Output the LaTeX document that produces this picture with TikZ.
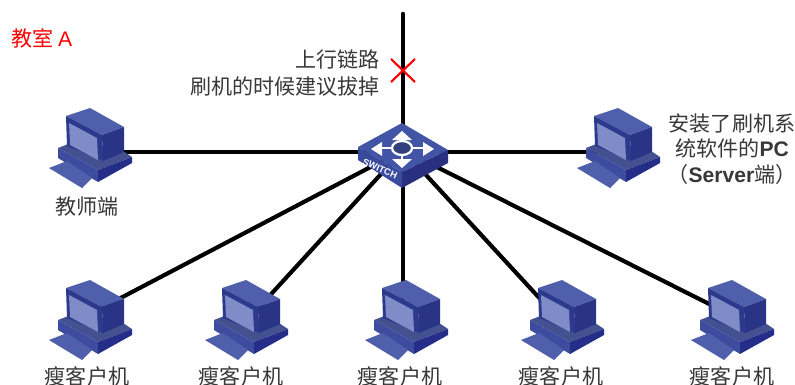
\documentclass[tikz,border=0pt]{standalone}
\usepackage{fontspec}
\setmainfont{Liberation Sans}
\newfontfamily\cjk{Noto Sans CJK SC}
\definecolor{pcfront}{HTML}{2B3A8C}
\definecolor{pctop}{HTML}{4F5FAB}
\definecolor{pcside}{HTML}{2A3486}
\definecolor{pcscreen}{HTML}{7F8CC8}
\definecolor{pcbase}{HTML}{3D4C9F}
\definecolor{pcright}{HTML}{242E88}
\definecolor{swtop}{HTML}{4254A6}
\definecolor{swleft}{HTML}{3A4A9C}
\definecolor{swright}{HTML}{28307F}
\tikzset{
  link/.style={line width=3.4pt,black},
  diag/.style={line width=3.1pt,black},
  lbl/.style={inner sep=0pt,font=\fontsize{15.8pt}{19pt}\selectfont\cjk,text=black!78},
  anchorpt/.style={inner sep=0pt,minimum size=0pt},
  pc/.pic={
    % base
    \fill[pctop!85!black] (18,48)--(36,41)--(80,49)--(92,57)--(58,70)--cycle;
    \fill[pcbase] (18,48)--(58,70)--(58,82)--(18,58)--cycle;
    \fill[pcright] (58,70)--(92,57)--(92,63)--(58,82)--cycle;
    % monitor
    \fill[pctop] (26,16)--(50,8)--(84,27)--(62,35)--cycle;
    \fill[pcfront] (26,16)--(62,35)--(63,61)--(27,46)--cycle;
    \fill[pcside] (62,35)--(84,27)--(84,52)--(63,61)--cycle;
    \fill[pcscreen] (29,23)--(57,38)--(58,60)--(30,45)--cycle;
    % keyboard
    \fill[pctop] (9,68)--(27,61)--(52,78)--(42,88)--cycle;
  },
  sarrow/.style={white,line width=2pt},
  stip/.style={fill=white},
}
\begin{document}
\begin{tikzpicture}[x=0.75pt,y=-0.75pt]
\useasboundingbox (0,0) rectangle (795,385);
\fill[white] (0,0) rectangle (795,385);
% anchors of the devices
\node[anchorpt] (sw) at (403,150) {};
\coordinate (up) at (403,14);
\node[anchorpt] (teacher) at (92,152) {};
\node[anchorpt] (server) at (620,152) {};
\node[anchorpt] (c1) at (92,313) {};
\node[anchorpt] (c2) at (252,315) {};
\node[anchorpt] (c3) at (403,315) {};
\node[anchorpt] (c4) at (555,315) {};
\node[anchorpt] (c5) at (735,317) {};
% connectors
\draw[link,line cap=round] (up) -- (sw);
\draw[diag] (teacher) -- (server);
\draw[diag] (c1) -- (sw);
\draw[diag] (c2) -- (sw);
\draw[link] (c3) -- (sw);
\draw[diag] (c4) -- (sw);
\draw[diag] (c5) -- (sw);
% red cross
\draw[red,line width=1.6pt] (391,59) -- (415,82) (415,59) -- (391,82);
% computers
\pic at (40,100) {pc};
\pic at (568,100) {pc};
\pic at (40,272) {pc};
\pic at (196,272) {pc};
\pic at (356,272) {pc};
\pic at (512,272) {pc};
\pic at (682,272) {pc};
% switch
\fill[swright] (402,172)--(448,150)--(448,163)--(402,188)--cycle;
\fill[swleft] (358,147)--(402,172)--(402,188)--(358,160)--cycle;
\fill[swtop] (402,123)--(448,150)--(402,172)--(358,147)--cycle;
\draw[sarrow] (402,141)--(402,137) (402,155)--(402,160) (392,148)--(379,148) (412,148)--(425,148);
\fill[swtop!75!black] (402,148) ellipse (10 and 7);
\draw[white,line width=1.7pt] (402,148) ellipse (10 and 7);
\fill[stip] (402,131)--(412,140)--(392,140)--cycle;
\fill[stip] (402,168)--(412,159)--(392,159)--cycle;
\fill[stip] (371,149)--(382,142)--(382,156)--cycle;
\fill[stip] (434,149)--(423,142)--(423,156)--cycle;
\node[anchorpt,text=white,rotate=-24,font=\fontsize{7pt}{7pt}\selectfont\bfseries] (swlabel) at (380,169) {SWITCH};
% labels
\node[lbl,text=red,anchor=west] (room) at (11,38) {教室 {\rmfamily A}};
\node[lbl,anchor=east] (l1) at (380,59) {上行链路};
\node[lbl,anchor=east] (l2) at (380,87) {刷机的时候建议拔掉};
\node[lbl,align=center] (l3) at (732,149) {安装了刷机系\\统软件的{\rmfamily\bfseries PC}\\（{\rmfamily\bfseries Server}端）};
\node[lbl] (t0) at (87,207) {教师端};
\node[lbl] (t1) at (87,376) {瘦客户机};
\node[lbl] (t2) at (241,376) {瘦客户机};
\node[lbl] (t3) at (400,376) {瘦客户机};
\node[lbl] (t4) at (561,376) {瘦客户机};
\node[lbl] (t5) at (732,376) {瘦客户机};
\end{tikzpicture}
\end{document}
